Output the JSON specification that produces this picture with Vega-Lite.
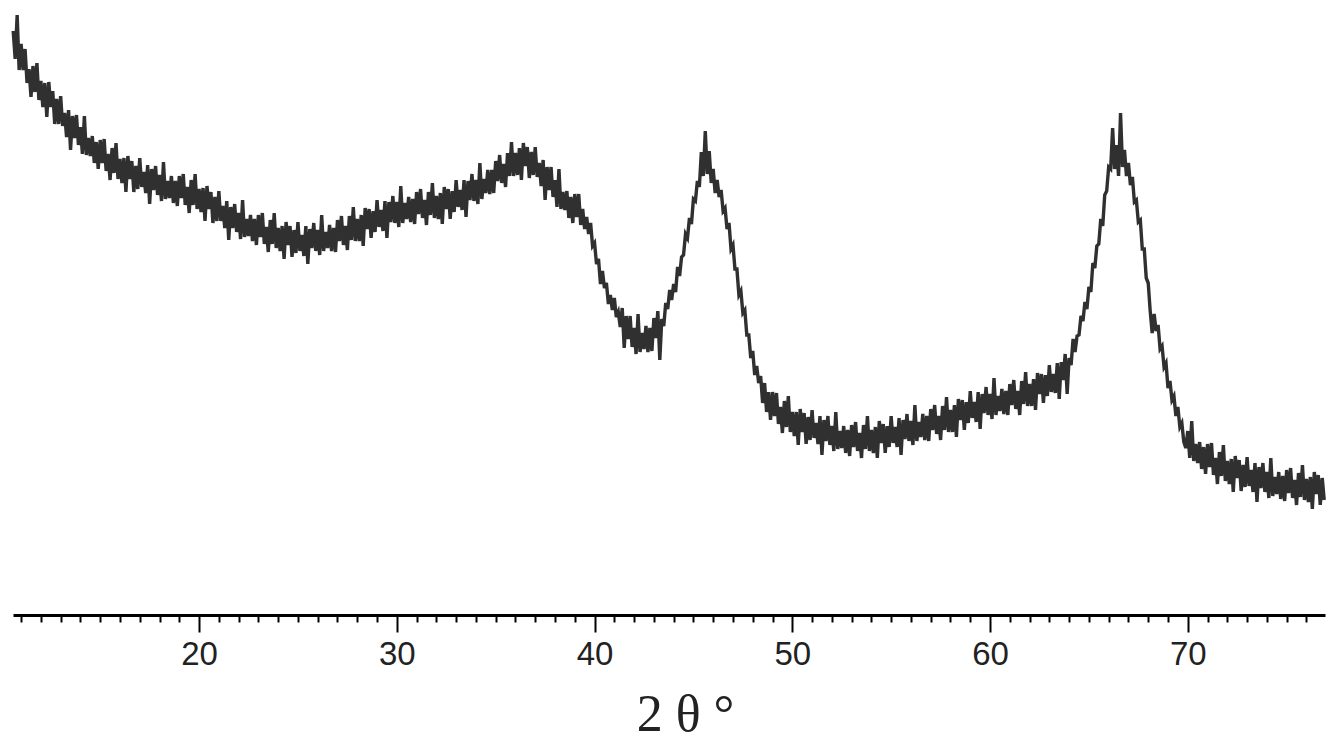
{
  "$schema": "https://vega.github.io/schema/vega-lite/v6.json",
  "width": 1312,
  "height": 615,
  "autosize": {"type": "none"},
  "padding": {"left": 13, "top": 0, "right": 14, "bottom": 132},
  "background": "white",
  "config": {"view": {"stroke": null}},
  "data": {"values": [
{"t":10.6,"i":584},{"t":10.7,"i":556},{"t":10.8,"i":600},{"t":10.9,"i":545},{"t":11.0,"i":571},{"t":11.1,"i":545},{"t":11.2,"i":566},{"t":11.3,"i":532},{"t":11.4,"i":546},{"t":11.5,"i":518},
{"t":11.6,"i":549},{"t":11.7,"i":523},{"t":11.8,"i":552},{"t":11.9,"i":515},{"t":12.0,"i":534},{"t":12.1,"i":508},{"t":12.2,"i":532},{"t":12.3,"i":498},{"t":12.4,"i":533},{"t":12.5,"i":508},
{"t":12.6,"i":524},{"t":12.7,"i":491},{"t":12.8,"i":516},{"t":12.9,"i":491},{"t":13.0,"i":519},{"t":13.1,"i":489},{"t":13.2,"i":502},{"t":13.3,"i":478},{"t":13.4,"i":505},{"t":13.5,"i":465},
{"t":13.6,"i":499},{"t":13.7,"i":477},{"t":13.8,"i":500},{"t":13.9,"i":470},{"t":14.0,"i":488},{"t":14.1,"i":461},{"t":14.2,"i":499},{"t":14.3,"i":460},{"t":14.4,"i":477},{"t":14.5,"i":459},
{"t":14.6,"i":479},{"t":14.7,"i":452},{"t":14.8,"i":473},{"t":14.9,"i":446},{"t":15.0,"i":475},{"t":15.1,"i":452},{"t":15.2,"i":476},{"t":15.3,"i":444},{"t":15.4,"i":461},{"t":15.5,"i":435},
{"t":15.6,"i":467},{"t":15.7,"i":442},{"t":15.8,"i":472},{"t":15.9,"i":436},{"t":16.0,"i":456},{"t":16.1,"i":432},{"t":16.2,"i":457},{"t":16.3,"i":423},{"t":16.4,"i":459},{"t":16.5,"i":436},
{"t":16.6,"i":454},{"t":16.7,"i":423},{"t":16.8,"i":449},{"t":16.9,"i":426},{"t":17.0,"i":457},{"t":17.1,"i":428},{"t":17.2,"i":443},{"t":17.3,"i":422},{"t":17.4,"i":450},{"t":17.5,"i":411},
{"t":17.6,"i":446},{"t":17.7,"i":425},{"t":17.8,"i":449},{"t":17.9,"i":420},{"t":18.0,"i":440},{"t":18.1,"i":414},{"t":18.2,"i":453},{"t":18.3,"i":416},{"t":18.4,"i":434},{"t":18.5,"i":417},
{"t":18.6,"i":439},{"t":18.7,"i":412},{"t":18.8,"i":434},{"t":18.9,"i":409},{"t":19.0,"i":439},{"t":19.1,"i":417},{"t":19.2,"i":441},{"t":19.3,"i":410},{"t":19.4,"i":428},{"t":19.5,"i":402},
{"t":19.6,"i":435},{"t":19.7,"i":410},{"t":19.8,"i":441},{"t":19.9,"i":406},{"t":20.0,"i":426},{"t":20.1,"i":403},{"t":20.2,"i":427},{"t":20.3,"i":394},{"t":20.4,"i":429},{"t":20.5,"i":406},
{"t":20.6,"i":423},{"t":20.7,"i":392},{"t":20.8,"i":418},{"t":20.9,"i":394},{"t":21.0,"i":424},{"t":21.1,"i":394},{"t":21.2,"i":409},{"t":21.3,"i":387},{"t":21.4,"i":414},{"t":21.5,"i":375},
{"t":21.6,"i":408},{"t":21.7,"i":387},{"t":21.8,"i":411},{"t":21.9,"i":383},{"t":22.0,"i":402},{"t":22.1,"i":376},{"t":22.2,"i":415},{"t":22.3,"i":378},{"t":22.4,"i":396},{"t":22.5,"i":379},
{"t":22.6,"i":400},{"t":22.7,"i":374},{"t":22.8,"i":396},{"t":22.9,"i":370},{"t":23.0,"i":400},{"t":23.1,"i":378},{"t":23.2,"i":402},{"t":23.3,"i":371},{"t":23.4,"i":388},{"t":23.5,"i":363},
{"t":23.6,"i":395},{"t":23.7,"i":371},{"t":23.8,"i":402},{"t":23.9,"i":367},{"t":24.0,"i":387},{"t":24.1,"i":364},{"t":24.2,"i":389},{"t":24.3,"i":356},{"t":24.4,"i":393},{"t":24.5,"i":370},
{"t":24.6,"i":389},{"t":24.7,"i":358},{"t":24.8,"i":385},{"t":24.9,"i":362},{"t":25.0,"i":393},{"t":25.1,"i":364},{"t":25.2,"i":380},{"t":25.3,"i":359},{"t":25.4,"i":389},{"t":25.5,"i":351},
{"t":25.6,"i":386},{"t":25.7,"i":367},{"t":25.8,"i":392},{"t":25.9,"i":364},{"t":26.0,"i":385},{"t":26.1,"i":360},{"t":26.2,"i":400},{"t":26.3,"i":364},{"t":26.4,"i":383},{"t":26.5,"i":367},
{"t":26.6,"i":390},{"t":26.7,"i":364},{"t":26.8,"i":387},{"t":26.9,"i":363},{"t":27.0,"i":395},{"t":27.1,"i":374},{"t":27.2,"i":399},{"t":27.3,"i":370},{"t":27.4,"i":389},{"t":27.5,"i":365},
{"t":27.6,"i":399},{"t":27.7,"i":375},{"t":27.8,"i":408},{"t":27.9,"i":374},{"t":28.0,"i":396},{"t":28.1,"i":374},{"t":28.2,"i":400},{"t":28.3,"i":369},{"t":28.4,"i":407},{"t":28.5,"i":386},
{"t":28.6,"i":406},{"t":28.7,"i":377},{"t":28.8,"i":404},{"t":28.9,"i":383},{"t":29.0,"i":415},{"t":29.1,"i":388},{"t":29.2,"i":405},{"t":29.3,"i":384},{"t":29.4,"i":414},{"t":29.5,"i":377},
{"t":29.6,"i":413},{"t":29.7,"i":393},{"t":29.8,"i":419},{"t":29.9,"i":392},{"t":30.0,"i":413},{"t":30.1,"i":388},{"t":30.2,"i":429},{"t":30.3,"i":392},{"t":30.4,"i":412},{"t":30.5,"i":396},
{"t":30.6,"i":418},{"t":30.7,"i":393},{"t":30.8,"i":416},{"t":30.9,"i":391},{"t":31.0,"i":423},{"t":31.1,"i":401},{"t":31.2,"i":426},{"t":31.3,"i":397},{"t":31.4,"i":415},{"t":31.5,"i":390},
{"t":31.6,"i":423},{"t":31.7,"i":400},{"t":31.8,"i":432},{"t":31.9,"i":397},{"t":32.0,"i":419},{"t":32.1,"i":396},{"t":32.2,"i":422},{"t":32.3,"i":391},{"t":32.4,"i":428},{"t":32.5,"i":406},
{"t":32.6,"i":426},{"t":32.7,"i":396},{"t":32.8,"i":424},{"t":32.9,"i":403},{"t":33.0,"i":435},{"t":33.1,"i":408},{"t":33.2,"i":425},{"t":33.3,"i":405},{"t":33.4,"i":435},{"t":33.5,"i":398},
{"t":33.6,"i":434},{"t":33.7,"i":415},{"t":33.8,"i":441},{"t":33.9,"i":414},{"t":34.0,"i":435},{"t":34.1,"i":411},{"t":34.2,"i":452},{"t":34.3,"i":416},{"t":34.4,"i":436},{"t":34.5,"i":422},
{"t":34.6,"i":445},{"t":34.7,"i":421},{"t":34.8,"i":445},{"t":34.9,"i":422},{"t":35.0,"i":454},{"t":35.1,"i":434},{"t":35.2,"i":460},{"t":35.3,"i":432},{"t":35.4,"i":451},{"t":35.5,"i":428},
{"t":35.6,"i":462},{"t":35.7,"i":439},{"t":35.8,"i":473},{"t":35.9,"i":439},{"t":36.0,"i":462},{"t":36.1,"i":440},{"t":36.2,"i":467},{"t":36.3,"i":435},{"t":36.4,"i":472},{"t":36.5,"i":449},
{"t":36.6,"i":468},{"t":36.7,"i":437},{"t":36.8,"i":463},{"t":36.9,"i":440},{"t":37.0,"i":468},{"t":37.1,"i":438},{"t":37.2,"i":452},{"t":37.3,"i":429},{"t":37.4,"i":455},{"t":37.5,"i":415},
{"t":37.6,"i":448},{"t":37.7,"i":425},{"t":37.8,"i":448},{"t":37.9,"i":418},{"t":38.0,"i":435},{"t":38.1,"i":408},{"t":38.2,"i":446},{"t":38.3,"i":406},{"t":38.4,"i":423},{"t":38.5,"i":405},
{"t":38.6,"i":424},{"t":38.7,"i":397},{"t":38.8,"i":418},{"t":38.9,"i":392},{"t":39.0,"i":421},{"t":39.1,"i":398},{"t":39.2,"i":421},{"t":39.3,"i":390},{"t":39.4,"i":406},{"t":39.5,"i":386},
{"t":39.6,"i":398},{"t":39.7,"i":381},{"t":39.8,"i":392},{"t":39.9,"i":369},{"t":40.0,"i":372},{"t":40.1,"i":351},{"t":40.2,"i":356},{"t":40.3,"i":331},{"t":40.4,"i":344},{"t":40.5,"i":327},
{"t":40.6,"i":332},{"t":40.7,"i":311},{"t":40.8,"i":320},{"t":40.9,"i":305},{"t":41.0,"i":317},{"t":41.1,"i":298},{"t":41.2,"i":303},{"t":41.3,"i":288},{"t":41.4,"i":307},{"t":41.5,"i":267},
{"t":41.6,"i":299},{"t":41.7,"i":276},{"t":41.8,"i":299},{"t":41.9,"i":268},{"t":42.0,"i":287},{"t":42.1,"i":261},{"t":42.2,"i":301},{"t":42.3,"i":263},{"t":42.4,"i":282},{"t":42.5,"i":266},
{"t":42.6,"i":289},{"t":42.7,"i":263},{"t":42.8,"i":287},{"t":42.9,"i":264},{"t":43.0,"i":297},{"t":43.1,"i":277},{"t":43.2,"i":304},{"t":43.3,"i":255},{"t":43.4,"i":296},{"t":43.5,"i":289},
{"t":43.6,"i":312},{"t":43.7,"i":306},{"t":43.8,"i":325},{"t":43.9,"i":315},{"t":44.0,"i":331},{"t":44.1,"i":323},{"t":44.2,"i":348},{"t":44.3,"i":339},{"t":44.4,"i":358},{"t":44.5,"i":360},
{"t":44.6,"i":381},{"t":44.7,"i":377},{"t":44.8,"i":397},{"t":44.9,"i":391},{"t":45.0,"i":416},{"t":45.1,"i":414},{"t":45.2,"i":434},{"t":45.3,"i":428},{"t":45.4,"i":463},{"t":45.5,"i":439},
{"t":45.6,"i":484},{"t":45.7,"i":441},{"t":45.8,"i":464},{"t":45.9,"i":432},{"t":46.0,"i":446},{"t":46.1,"i":422},{"t":46.2,"i":435},{"t":46.3,"i":418},{"t":46.4,"i":425},{"t":46.5,"i":404},
{"t":46.6,"i":407},{"t":46.7,"i":386},{"t":46.8,"i":392},{"t":46.9,"i":366},{"t":47.0,"i":370},{"t":47.1,"i":346},{"t":47.2,"i":346},{"t":47.3,"i":320},{"t":47.4,"i":324},{"t":47.5,"i":302},
{"t":47.6,"i":305},{"t":47.7,"i":280},{"t":47.8,"i":280},{"t":47.9,"i":257},{"t":48.0,"i":264},{"t":48.1,"i":240},{"t":48.2,"i":249},{"t":48.3,"i":232},{"t":48.4,"i":239},{"t":48.5,"i":212},
{"t":48.6,"i":232},{"t":48.7,"i":203},{"t":48.8,"i":223},{"t":48.9,"i":195},{"t":49.0,"i":223},{"t":49.1,"i":199},{"t":49.2,"i":222},{"t":49.3,"i":191},{"t":49.4,"i":208},{"t":49.5,"i":182},
{"t":49.6,"i":214},{"t":49.7,"i":188},{"t":49.8,"i":219},{"t":49.9,"i":183},{"t":50.0,"i":203},{"t":50.1,"i":179},{"t":50.2,"i":203},{"t":50.3,"i":170},{"t":50.4,"i":206},{"t":50.5,"i":183},
{"t":50.6,"i":202},{"t":50.7,"i":171},{"t":50.8,"i":198},{"t":50.9,"i":175},{"t":51.0,"i":205},{"t":51.1,"i":177},{"t":51.2,"i":192},{"t":51.3,"i":171},{"t":51.4,"i":199},{"t":51.5,"i":160},
{"t":51.6,"i":195},{"t":51.7,"i":174},{"t":51.8,"i":199},{"t":51.9,"i":170},{"t":52.0,"i":189},{"t":52.1,"i":164},{"t":52.2,"i":203},{"t":52.3,"i":166},{"t":52.4,"i":184},{"t":52.5,"i":167},
{"t":52.6,"i":189},{"t":52.7,"i":162},{"t":52.8,"i":185},{"t":52.9,"i":159},{"t":53.0,"i":190},{"t":53.1,"i":168},{"t":53.2,"i":193},{"t":53.3,"i":164},{"t":53.4,"i":182},{"t":53.5,"i":157},
{"t":53.6,"i":190},{"t":53.7,"i":166},{"t":53.8,"i":199},{"t":53.9,"i":164},{"t":54.0,"i":185},{"t":54.1,"i":162},{"t":54.2,"i":188},{"t":54.3,"i":157},{"t":54.4,"i":194},{"t":54.5,"i":172},
{"t":54.6,"i":191},{"t":54.7,"i":162},{"t":54.8,"i":189},{"t":54.9,"i":168},{"t":55.0,"i":199},{"t":55.1,"i":172},{"t":55.2,"i":188},{"t":55.3,"i":168},{"t":55.4,"i":197},{"t":55.5,"i":160},
{"t":55.6,"i":195},{"t":55.7,"i":176},{"t":55.8,"i":201},{"t":55.9,"i":174},{"t":56.0,"i":194},{"t":56.1,"i":170},{"t":56.2,"i":210},{"t":56.3,"i":174},{"t":56.4,"i":193},{"t":56.5,"i":178},
{"t":56.6,"i":201},{"t":56.7,"i":175},{"t":56.8,"i":199},{"t":56.9,"i":174},{"t":57.0,"i":206},{"t":57.1,"i":185},{"t":57.2,"i":210},{"t":57.3,"i":181},{"t":57.4,"i":199},{"t":57.5,"i":175},
{"t":57.6,"i":209},{"t":57.7,"i":185},{"t":57.8,"i":218},{"t":57.9,"i":183},{"t":58.0,"i":205},{"t":58.1,"i":183},{"t":58.2,"i":210},{"t":58.3,"i":178},{"t":58.4,"i":216},{"t":58.5,"i":195},
{"t":58.6,"i":215},{"t":58.7,"i":185},{"t":58.8,"i":213},{"t":58.9,"i":192},{"t":59.0,"i":224},{"t":59.1,"i":197},{"t":59.2,"i":213},{"t":59.3,"i":193},{"t":59.4,"i":223},{"t":59.5,"i":186},
{"t":59.6,"i":221},{"t":59.7,"i":202},{"t":59.8,"i":228},{"t":59.9,"i":200},{"t":60.0,"i":221},{"t":60.1,"i":196},{"t":60.2,"i":237},{"t":60.3,"i":200},{"t":60.4,"i":219},{"t":60.5,"i":204},
{"t":60.6,"i":226},{"t":60.7,"i":201},{"t":60.8,"i":224},{"t":60.9,"i":200},{"t":61.0,"i":231},{"t":61.1,"i":210},{"t":61.2,"i":235},{"t":61.3,"i":206},{"t":61.4,"i":224},{"t":61.5,"i":200},
{"t":61.6,"i":234},{"t":61.7,"i":211},{"t":61.8,"i":243},{"t":61.9,"i":209},{"t":62.0,"i":231},{"t":62.1,"i":209},{"t":62.2,"i":236},{"t":62.3,"i":205},{"t":62.4,"i":242},{"t":62.5,"i":221},
{"t":62.6,"i":241},{"t":62.7,"i":212},{"t":62.8,"i":240},{"t":62.9,"i":219},{"t":63.0,"i":250},{"t":63.1,"i":223},{"t":63.2,"i":241},{"t":63.3,"i":222},{"t":63.4,"i":252},{"t":63.5,"i":216},
{"t":63.6,"i":253},{"t":63.7,"i":235},{"t":63.8,"i":261},{"t":63.9,"i":221},{"t":64.0,"i":257},{"t":64.1,"i":250},{"t":64.2,"i":276},{"t":64.3,"i":263},{"t":64.4,"i":279},{"t":64.5,"i":280},
{"t":64.6,"i":299},{"t":64.7,"i":294},{"t":64.8,"i":313},{"t":64.9,"i":306},{"t":65.0,"i":328},{"t":65.1,"i":323},{"t":65.2,"i":352},{"t":65.3,"i":347},{"t":65.4,"i":369},{"t":65.5,"i":371},
{"t":65.6,"i":396},{"t":65.7,"i":389},{"t":65.8,"i":420},{"t":65.9,"i":424},{"t":66.0,"i":448},{"t":66.1,"i":446},{"t":66.2,"i":487},{"t":66.3,"i":446},{"t":66.4,"i":470},{"t":66.5,"i":439},
{"t":66.6,"i":502},{"t":66.7,"i":448},{"t":66.8,"i":465},{"t":66.9,"i":439},{"t":67.0,"i":452},{"t":67.1,"i":430},{"t":67.2,"i":438},{"t":67.3,"i":413},{"t":67.4,"i":415},{"t":67.5,"i":393},
{"t":67.6,"i":395},{"t":67.7,"i":366},{"t":67.8,"i":366},{"t":67.9,"i":337},{"t":68.0,"i":332},{"t":68.1,"i":304},{"t":68.2,"i":282},{"t":68.3,"i":301},{"t":68.4,"i":284},{"t":68.5,"i":290},
{"t":68.6,"i":266},{"t":68.7,"i":269},{"t":68.8,"i":248},{"t":68.9,"i":252},{"t":69.0,"i":227},{"t":69.1,"i":234},{"t":69.2,"i":215},{"t":69.3,"i":219},{"t":69.4,"i":199},{"t":69.5,"i":208},
{"t":69.6,"i":188},{"t":69.7,"i":192},{"t":69.8,"i":173},{"t":69.9,"i":167},{"t":70.0,"i":184},{"t":70.1,"i":157},{"t":70.2,"i":194},{"t":70.3,"i":154},{"t":70.4,"i":171},{"t":70.5,"i":152},
{"t":70.6,"i":173},{"t":70.7,"i":146},{"t":70.8,"i":168},{"t":70.9,"i":141},{"t":71.0,"i":171},{"t":71.1,"i":148},{"t":71.2,"i":172},{"t":71.3,"i":140},{"t":71.4,"i":157},{"t":71.5,"i":131},
{"t":71.6,"i":163},{"t":71.7,"i":139},{"t":71.8,"i":170},{"t":71.9,"i":134},{"t":72.0,"i":154},{"t":72.1,"i":131},{"t":72.2,"i":156},{"t":72.3,"i":123},{"t":72.4,"i":159},{"t":72.5,"i":137},
{"t":72.6,"i":155},{"t":72.7,"i":124},{"t":72.8,"i":150},{"t":72.9,"i":128},{"t":73.0,"i":158},{"t":73.1,"i":129},{"t":73.2,"i":145},{"t":73.3,"i":123},{"t":73.4,"i":152},{"t":73.5,"i":113},
{"t":73.6,"i":148},{"t":73.7,"i":127},{"t":73.8,"i":152},{"t":73.9,"i":123},{"t":74.0,"i":143},{"t":74.1,"i":117},{"t":74.2,"i":157},{"t":74.3,"i":119},{"t":74.4,"i":138},{"t":74.5,"i":121},
{"t":74.6,"i":143},{"t":74.7,"i":116},{"t":74.8,"i":139},{"t":74.9,"i":114},{"t":75.0,"i":145},{"t":75.1,"i":122},{"t":75.2,"i":147},{"t":75.3,"i":117},{"t":75.4,"i":135},{"t":75.5,"i":110},
{"t":75.6,"i":142},{"t":75.7,"i":118},{"t":75.8,"i":150},{"t":75.9,"i":115},{"t":76.0,"i":136},{"t":76.1,"i":113},{"t":76.2,"i":138},{"t":76.3,"i":106},{"t":76.4,"i":143},{"t":76.5,"i":121},
{"t":76.6,"i":140},{"t":76.7,"i":110},{"t":76.8,"i":137},{"t":76.9,"i":115}
  ]},
  "mark": {"type": "line", "color": "#303030", "strokeWidth": 3.4, "strokeJoin": "miter", "interpolate": "linear"},
  "encoding": {
    "x": {
      "field": "t",
      "type": "quantitative",
      "scale": {"domain": [10.59, 76.94], "nice": false, "zero": false},
      "axis": {
        "orient": "bottom",
        "title": "2 θ °",
        "titleFont": "Liberation Serif",
        "titleFontSize": 52,
        "titleFontWeight": "normal",
        "titleColor": "#222222",
        "titleX": 672,
        "titleY": 115,
        "titleAlign": "center",
        "titleBaseline": "alphabetic",
        "values": [11,12,13,14,15,16,17,18,19,20,21,22,23,24,25,26,27,28,29,30,31,32,33,34,35,36,37,38,39,40,41,42,43,44,45,46,47,48,49,50,51,52,53,54,55,56,57,58,59,60,61,62,63,64,65,66,67,68,69,70,71,72,73,74,75,76],
        "labelExpr": "datum.value % 10 === 0 ? datum.label : ''",
        "labelFont": "Liberation Sans",
        "labelFontSize": 33,
        "labelColor": "#222222",
        "labelPadding": 6,
        "labelOverlap": false,
        "labelFlush": false,
        "labelBound": false,
        "domainColor": "#000000",
        "domainWidth": 3,
        "tickColor": "#000000",
        "tickWidth": 2,
        "tickSize": {"condition": {"test": "datum.value % 10 === 0", "value": 17}, "value": 7},
        "grid": false
      }
    },
    "y": {
      "field": "i",
      "type": "quantitative",
      "scale": {"domain": [0, 615], "nice": false, "zero": false},
      "axis": null
    }
  }
}
